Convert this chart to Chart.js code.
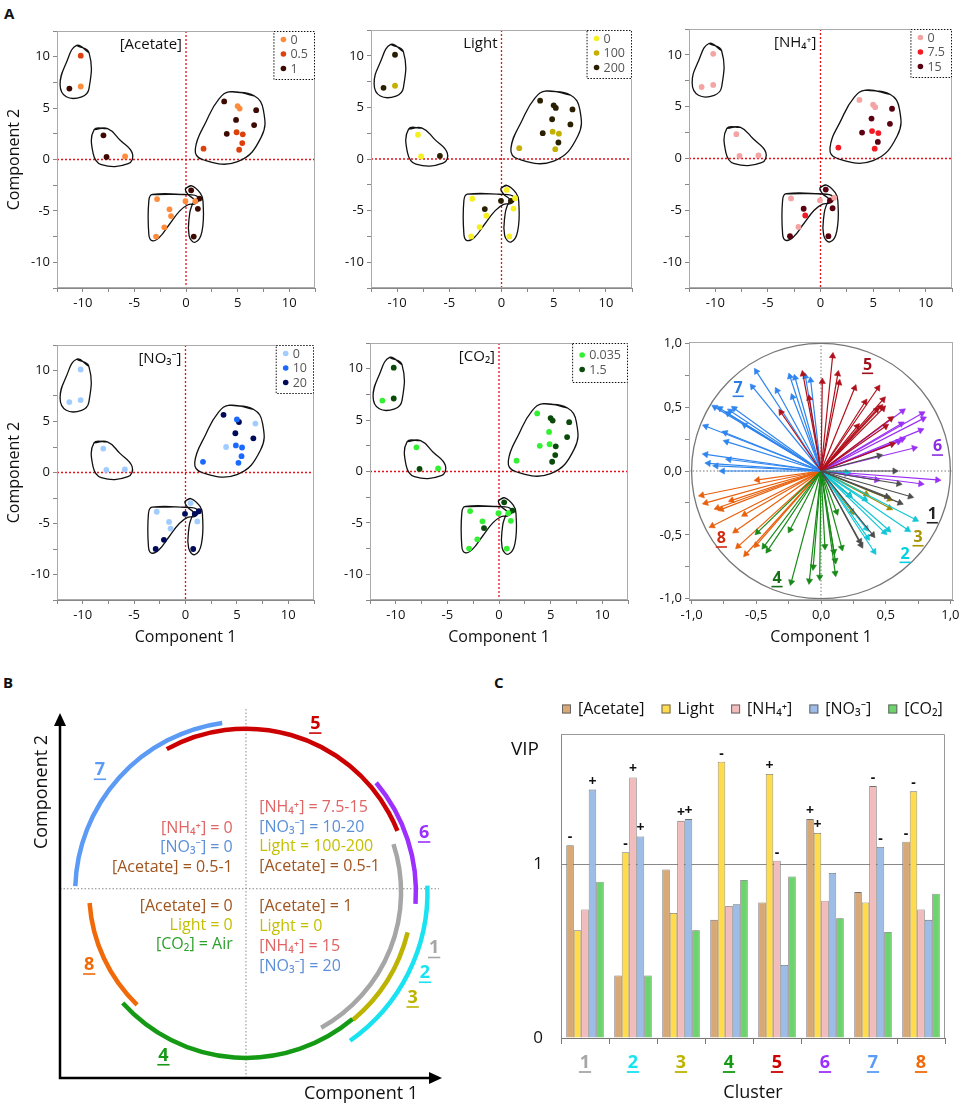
<!DOCTYPE html>
<html>
<head>
<meta charset="utf-8">
<title>PLS clusters</title>
<script src="https://cdn.jsdelivr.net/npm/chart.js@4.4.1/dist/chart.umd.min.js"></script>
<style>
  body { margin: 0; background: #fff; }
  #page { position: relative; width: 964px; height: 1107px; overflow: hidden; font-family: "Open Sans", "Noto Sans", sans-serif; }
  #page div.box { position: absolute; }
  .tag { position: absolute; font-weight: bold; font-size: 15px; line-height: 15px; color: #111; }
</style>
</head>
<body>
<div id="page">
  <div class="tag" style="left:4px;top:6px">A</div>
  <div class="tag" style="left:3px;top:675px">B</div>
  <div class="tag" style="left:494px;top:675px">C</div>
</div>
<script>
// scores of the 29 samples
const comp1 = [-11.3, -10.2, -10.2, -8.0, -7.7, -5.9, 3.7, 5.0, 5.2, 6.8, 4.85, 6.6, 3.95, 4.9, 5.5, 5.45, 1.7, 5.15,
               0.5, -2.8, -0.05, 0.9, 1.3, -1.6, -1.45, 1.15, -2.1, -2.9, 0.75];
const comp2 = [6.9, 7.1, 10.1, 2.35, 0.25, 0.3, 5.65, 5.2, 4.95, 4.8, 3.85, 3.35, 2.5, 2.65, 2.45, 1.6, 1.05, 0.95,
               -3.0, -3.85, -4.05, -4.05, -3.8, -4.85, -5.5, -4.8, -6.6, -7.5, -7.5];

// culture conditions of each sample
const acetate = [1, 0, 0.5, 1, 1, 0, 1, 0, 0, 1, 1, 1, 1, 0.5, 0.5, 0.5, 0.5, 0.5, 1, 0, 0, 0, 1, 0, 0, 1, 0, 0, 1];
const light = [200, 100, 200, 0, 0, 200, 200, 200, 200, 200, 200, 200, 200, 100, 100, 200, 100, 100, 0, 0, 200, 200, 0, 200, 0, 0, 0, 0, 0];
const nh4 = [0, 0, 0, 0, 0, 0, 0, 0, 0, 15, 15, 15, 15, 7.5, 7.5, 15, 7.5, 7.5, 15, 0, 0, 15, 0, 15, 7.5, 15, 0, 15, 15];
const no3 = [0, 0, 0, 0, 0, 0, 20, 10, 20, 0, 20, 20, 0, 10, 10, 10, 10, 10, 0, 0, 20, 20, 20, 0, 0, 0, 20, 20, 20];
const co2 = [0.035, 1.5, 1.5, 0.035, 1.5, 0.035, 0.035, 1.5, 1.5, 1.5, 0.035, 1.5, 0.035, 0.035, 1.5, 1.5, 0.035, 1.5,
             1.5, 0.035, 0.035, 0.035, 1.5, 0.035, 1.5, 0.035, 0.035, 0.035, 0.035];

// hand drawn group outlines (score units)
const hulls = [
  [[-10.6, 11.1], [-9.4, 10.4], [-9.4, 6.9], [-10.1, 6.1], [-11.6, 6.1], [-12.2, 7.3], [-11.6, 9.4]],
  [[-8.9, 2.9], [-7.6, 3.0], [-6.4, 1.9], [-5.2, 0.6], [-5.6, -0.4], [-8.2, -0.5], [-9.0, 0.6]],
  [[4.3, 6.6], [6.6, 6.2], [7.5, 4.8], [7.3, 2.2], [5.0, -0.2], [1.6, 0.0], [0.9, 1.0], [2.0, 3.8], [3.2, 5.9]],
  [[-3.25, -3.4], [0.6, -3.45], [1.25, -3.8], [0.9, -4.3], [0.2, -4.4], [-0.6, -5.0], [-1.6, -6.3], [-2.6, -7.6], [-3.3, -7.9], [-3.6, -7.3], [-3.6, -4.0]],
  [[-0.05, -2.85], [0.5, -2.55], [1.4, -3.3], [1.65, -4.1], [1.55, -7.0], [0.9, -8.05], [0.3, -7.4], [0.35, -5.3], [0.6, -4.4], [0.8, -3.95], [0.2, -3.4]]
];

// loadings: arrow tips per cluster 1..8
const load1 = [[0.57, 0.00], [0.45, 0.12], [0.60, -0.10], [0.51, -0.20], [0.69, -0.20], [0.61, -0.25], [0.40, -0.50], [0.31, -0.58], [0.30, -0.55]];
const load2 = [[0.73, -0.38], [0.67, -0.46], [0.52, -0.46], [0.49, -0.48], [0.41, -0.63], [0.36, -0.52], [0.35, -0.45], [0.34, -0.22], [0.22, -0.19], [0.20, -0.01]];
const load3 = [[0.53, -0.22], [0.53, -0.29], [0.35, -0.18], [0.24, -0.32]];
const load4 = [[-0.49, -0.48], [-0.44, -0.59], [-0.41, -0.62], [-0.24, -0.46], [-0.23, -0.87], [-0.09, -0.86], [-0.06, -0.75], [-0.01, -0.83],
               [0.03, -0.59], [0.10, -0.63], [0.11, -0.70], [0.11, -0.80], [0.16, -0.60], [0.12, -0.32], [0.22, -0.19]];
const load5 = [[-0.14, 0.76], [-0.09, 0.57], [-0.31, 0.46], [0.01, 0.70], [0.09, 0.90], [0.13, 0.76], [0.14, 0.69], [0.26, 0.65], [0.44, 0.65],
               [0.34, 0.54], [0.48, 0.56], [0.46, 0.50], [0.48, 0.49], [0.43, 0.48], [0.54, 0.41], [0.50, 0.35], [0.28, 0.35], [0.55, 0.21]];
const load6 = [[0.63, 0.47], [0.62, 0.37], [0.78, 0.45], [0.79, 0.41], [0.77, 0.32], [0.63, 0.25], [0.60, 0.23], [0.72, 0.18], [0.90, -0.07], [0.77, -0.10], [0.43, -0.07], [0.20, -0.02]];
const load7 = [[-0.50, 0.78], [-0.53, 0.66], [-0.34, 0.63], [-0.24, 0.74], [-0.20, 0.73], [-0.12, 0.74], [-0.08, 0.71], [-0.22, 0.58], [-0.82, 0.50],
               [-0.78, 0.49], [-0.67, 0.49], [-0.70, 0.47], [-0.72, 0.45], [-0.59, 0.36], [-0.89, 0.35], [-0.74, 0.30], [-0.73, 0.23], [-0.89, 0.13],
               [-0.71, 0.09], [-0.87, 0.06], [-0.81, 0.04], [-0.76, 0.00]];
const load8 = [[-0.49, -0.07], [-0.92, -0.19], [-0.89, -0.25], [-0.80, -0.29], [-0.77, -0.30], [-0.69, -0.23], [-0.59, -0.34], [-0.84, -0.43],
               [-0.66, -0.47], [-0.64, -0.59], [-0.58, -0.65], [-0.50, -0.58]];
const loadLabelX = [0.86, 0.65, 0.75, -0.34, 0.36, 0.90, -0.64, -0.77];
const loadLabelY = [-0.34, -0.65, -0.52, -0.84, 0.83, 0.19, 0.65, -0.53];

// panel B: cluster arcs (degrees) and radii
const arcFrom = [-61, -55, -50, -138, 22, -4, 98, 184];
const arcTo = [18, 2, -14, -50, 119, 40, 178, 226];
const arcRadius = [0.94, 1.10, 1.01, 1.005, 0.99, 1.03, 1.035, 0.95];
const bLabelX = [1.14, 1.085, 1.01, -0.50, 0.42, 1.08, -0.885, -0.95];
const bLabelY = [-0.34, -0.49, -0.64, -0.99, 1.02, 0.36, 0.74, -0.44];
const bNotes = [
  ['[NH₄⁺] = 0', -0.08, 0.388, 'right', 'nh4'],
  ['[NO₃⁻] = 0', -0.08, 0.273, 'right', 'no3'],
  ['[Acetate] = 0.5-1', -0.08, 0.152, 'right', 'ace'],
  ['[NH₄⁺] = 7.5-15', 0.08, 0.515, 'left', 'nh4'],
  ['[NO₃⁻] = 10-20', 0.08, 0.394, 'left', 'no3'],
  ['Light = 100-200', 0.08, 0.279, 'left', 'light'],
  ['[Acetate] = 0.5-1', 0.08, 0.158, 'left', 'ace'],
  ['[Acetate] = 0', -0.08, -0.085, 'right', 'ace'],
  ['Light = 0', -0.08, -0.2, 'right', 'light'],
  ['[CO₂] = Air', -0.08, -0.32, 'right', 'co2'],
  ['[Acetate] = 1', 0.08, -0.085, 'left', 'ace'],
  ['Light = 0', 0.08, -0.206, 'left', 'light'],
  ['[NH₄⁺] = 15', 0.08, -0.327, 'left', 'nh4'],
  ['[NO₃⁻] = 20', 0.08, -0.448, 'left', 'no3']
];

// panel C: VIP per cluster
const clusters = ['1', '2', '3', '4', '5', '6', '7', '8'];
const vipAcetate = [1.11, 0.36, 0.97, 0.68, 0.78, 1.26, 0.84, 1.13];
const vipLight = [0.62, 1.07, 0.72, 1.59, 1.52, 1.18, 0.78, 1.42];
const vipNH4 = [0.74, 1.50, 1.25, 0.76, 1.02, 0.79, 1.45, 0.74];
const vipNO3 = [1.43, 1.16, 1.26, 0.77, 0.42, 0.95, 1.10, 0.68];
const vipCO2 = [0.90, 0.36, 0.62, 0.91, 0.93, 0.69, 0.61, 0.83];
const signAcetate = ['-', '', '', '', '', '+', '', '-'];
const signLight = ['', '-', '', '-', '+', '+', '', '-'];
const signNH4 = ['', '+', '+', '', '-', '', '-', ''];
const signNO3 = ['+', '+', '+', '', '', '', '-', ''];
const signCO2 = ['', '', '', '', '', '', '', ''];

// colours
const clusterColors = ['#a6a6a6', '#19e3f0', '#bcb400', '#159a15', '#cc0000', '#9b30ff', '#5b9bf5', '#f06a0a'];
const arrowColors = ['#4d4d4d', '#12c6d6', '#9c8a00', '#178a17', '#b0101c', '#9b30f5', '#2f85ee', '#e8600c'];
const loadLabelColors = ['#222222', '#00cfe0', '#a89400', '#1a6e1a', '#a01018', '#8b2be2', '#2a7de1', '#d02a10'];
const noteColors = { nh4: '#e06464', no3: '#5b8fd8', ace: '#a0541e', light: '#c4bf00', co2: '#2ea02e' };

const FONT = '"Open Sans", "Noto Sans", sans-serif';
Chart.defaults.font.family = FONT;
Chart.defaults.color = '#111';
Chart.defaults.animation = false;
Chart.defaults.events = [];
Chart.defaults.plugins.legend.display = false;
Chart.defaults.plugins.tooltip.enabled = false;

const page = document.getElementById('page');

function canvasAt(box) {
  const div = document.createElement('div');
  div.className = 'box';
  div.style.left = box[0] + 'px';
  div.style.top = box[1] + 'px';
  div.style.width = box[2] + 'px';
  div.style.height = box[3] + 'px';
  const cv = document.createElement('canvas');
  cv.width = box[2];
  cv.height = box[3];
  div.appendChild(cv);
  page.appendChild(div);
  return cv;
}

// margins between a canvas box and the plot rectangle inside it
function fit(box, plot) {
  return { L: plot[0] - box[0], T: plot[1] - box[1], R: box[0] + box[2] - plot[2], B: box[1] + box[3] - plot[3] };
}

function fixSize(size) {
  return s => {
    if (s.isHorizontal()) s.height = size; else s.width = size;
    s.paddingLeft = s.paddingRight = s.paddingTop = s.paddingBottom = 0;
  };
}

function linAxis(o) {
  return {
    type: 'linear', min: o.min, max: o.max, afterFit: fixSize(o.size),
    ticks: {
      stepSize: o.step, includeBounds: false, autoSkip: false, maxRotation: 0, padding: 3,
      font: { size: 13 }, color: '#111',
      callback: v => (Math.abs(v / o.major - Math.round(v / o.major)) < 1e-6 ? o.fmt(v) : '')
    },
    grid: { drawOnChartArea: false, tickLength: 4, color: '#888' },
    border: { color: '#888' },
    title: o.title ? { display: true, text: o.title, font: { size: 16 }, color: '#111', padding: o.titlePad } : { display: false }
  };
}

function underlined(ctx, t, x, y, color, size, weight) {
  ctx.font = weight + ' ' + size + 'px ' + FONT;
  ctx.fillStyle = color;
  ctx.strokeStyle = color;
  ctx.textAlign = 'center';
  ctx.textBaseline = 'middle';
  ctx.fillText(t, x, y);
  const w = ctx.measureText(t).width;
  ctx.lineWidth = 1.6;
  ctx.beginPath();
  ctx.moveTo(x - w / 2 - 1, y + size * 0.52);
  ctx.lineTo(x + w / 2 + 1, y + size * 0.52);
  ctx.stroke();
}

function scoreDecor(title, names, colors) {
  return {
    id: 'scoreDecor',
    beforeDatasetsDraw(chart) {
      const { ctx, chartArea: a, scales: { x, y } } = chart;
      const px = x.getPixelForValue(0), py = y.getPixelForValue(0);
      ctx.save();
      ctx.strokeStyle = '#e8101a';
      ctx.lineWidth = 1.3;
      ctx.setLineDash([2, 2]);
      ctx.beginPath();
      ctx.moveTo(px, a.top); ctx.lineTo(px, a.bottom);
      ctx.moveTo(a.left, py); ctx.lineTo(a.right, py);
      ctx.stroke();
      ctx.restore();
    },
    afterDraw(chart) {
      const { ctx, chartArea: a, scales: { x } } = chart;
      ctx.save();
      ctx.strokeStyle = '#aaa';
      ctx.lineWidth = 1;
      ctx.strokeRect(a.left + 0.5, a.top + 0.5, a.width - 1, a.height - 1);
      ctx.font = '15px ' + FONT;
      ctx.fillStyle = '#111';
      ctx.textAlign = 'right';
      ctx.textBaseline = 'middle';
      ctx.fillText(title, x.getPixelForValue(0) - 4, a.top + 14);
      // legend box in the corner
      ctx.font = '12.5px ' + FONT;
      const n = names.length;
      const w = 24 + Math.max(...names.map(t => ctx.measureText(t).width));
      const h = n === 3 ? 49 : 40, first = n === 3 ? 8.5 : 12, step = 14.5;
      const bx = a.right - w, by = a.top;
      ctx.fillStyle = '#fff';
      ctx.fillRect(bx, by, w, h);
      ctx.setLineDash([1.5, 1.5]);
      ctx.strokeStyle = '#111';
      ctx.strokeRect(bx + 0.5, by + 0.5, w - 1, h - 1);
      ctx.setLineDash([]);
      names.forEach((t, k) => {
        const cy = by + first + k * step;
        ctx.fillStyle = colors[k];
        ctx.beginPath();
        ctx.arc(bx + 10, cy, 2.8, 0, Math.PI * 2);
        ctx.fill();
        ctx.fillStyle = '#555';
        ctx.textAlign = 'left';
        ctx.fillText(t, bx + 17, cy + 0.5);
      });
      ctx.restore();
    }
  };
}

function scoreChart(box, plot, values, levels, names, colors, title, yTitle, xTitle) {
  const f = fit(box, plot);
  const datasets = levels.map((lv, k) => ({
    data: comp1.map((x, i) => ({ x, y: comp2[i] })).filter((p, i) => values[i] === lv),
    pointRadius: 2.9, pointBackgroundColor: colors[k], pointBorderWidth: 0, order: 0
  }));
  hulls.forEach(h => datasets.push({
    data: h.concat([h[0], h[1]]).map(([x, y]) => ({ x, y })),
    showLine: true, tension: 0.45, borderColor: '#111', borderWidth: 1.3, pointRadius: 0, order: 1
  }));
  new Chart(canvasAt(box), {
    type: 'scatter',
    data: { datasets },
    options: {
      responsive: false,
      layout: { padding: { left: 0, top: f.T, right: f.R, bottom: 0 }, autoPadding: false },
      scales: {
        x: linAxis({ min: -12.5, max: 12.5, step: 2.5, major: 5, size: f.B, fmt: v => String(v),
                     title: xTitle ? 'Component 1' : null, titlePad: { top: 0, bottom: f.B - 9.6 - 37 } }),
        y: linAxis({ min: -12.5, max: 12.5, step: 2.5, major: 5, size: f.L, fmt: v => String(v),
                     title: yTitle ? 'Component 2' : null, titlePad: { top: 4.4, bottom: 0 } })
      }
    },
    plugins: [scoreDecor(title, names, colors)]
  });
}

scoreChart([0, 0, 320, 318], [57, 31, 315, 288], acetate, [0, 0.5, 1], ['0', '0.5', '1'],
           ['#ff8c3a', '#dc400c', '#3c0a00'], '[Acetate]', true, false);
scoreChart([320, 0, 320, 318], [371, 30, 632, 288], light, [0, 100, 200], ['0', '100', '200'],
           ['#f7f020', '#c4b000', '#2a2000'], 'Light', false, false);
scoreChart([640, 0, 324, 318], [689, 29, 952, 288], nh4, [0, 7.5, 15], ['0', '7.5', '15'],
           ['#f5a3a3', '#f41a24', '#5a0010'], '[NH₄⁺]', false, false);
scoreChart([0, 318, 320, 342], [57, 345, 314, 600], no3, [0, 10, 20], ['0', '10', '20'],
           ['#a0ccff', '#1a6aff', '#000a5a'], '[NO₃⁻]', true, true);
scoreChart([320, 318, 320, 342], [370, 343, 628, 600], co2, [0.035, 1.5], ['0.035', '1.5'],
           ['#33f033', '#0a4a0a'], '[CO₂]', false, true);

// loadings plot
(function () {
  const box = [640, 318, 324, 342], plot = [689, 342, 953, 600];
  const f = fit(box, plot);
  const arrows = [load1, load2, load3, load4, load5, load6, load7, load8];
  const datasets = [];
  arrows.forEach((set, c) => set.forEach(([x, y]) => datasets.push({
    data: [{ x: 0, y: 0 }, { x, y }],
    showLine: true, borderColor: arrowColors[c], borderWidth: 1.2,
    pointRadius: [0, 3.6], pointStyle: 'triangle', pointRotation: [0, Math.atan2(x, y) * 180 / Math.PI],
    pointBackgroundColor: arrowColors[c], pointBorderColor: arrowColors[c], pointBorderWidth: 0.6
  })));
  const comma = v => v.toFixed(1).replace('.', ',');
  new Chart(canvasAt(box), {
    type: 'scatter',
    data: { datasets },
    options: {
      responsive: false,
      layout: { padding: { left: 0, top: f.T, right: f.R, bottom: 0 }, autoPadding: false },
      scales: {
        x: linAxis({ min: -1.02, max: 1.02, step: 0.25, major: 0.5, size: f.B, fmt: comma,
                     title: 'Component 1', titlePad: { top: 0, bottom: f.B - 9.6 - 37 } }),
        y: linAxis({ min: -1.01, max: 1.01, step: 0.25, major: 0.5, size: f.L, fmt: comma })
      }
    },
    plugins: [{
      id: 'loadDecor',
      beforeDatasetsDraw(chart) {
        const { ctx, chartArea: a, scales: { x, y } } = chart;
        const cx = x.getPixelForValue(0), cy = y.getPixelForValue(0);
        ctx.save();
        ctx.strokeStyle = '#777';
        ctx.lineWidth = 1.3;
        ctx.beginPath();
        ctx.ellipse(cx, cy, x.getPixelForValue(1) - cx, cy - y.getPixelForValue(1), 0, 0, Math.PI * 2);
        ctx.stroke();
        ctx.lineWidth = 1;
        ctx.setLineDash([1.5, 2]);
        ctx.beginPath();
        ctx.moveTo(cx, a.top); ctx.lineTo(cx, a.bottom);
        ctx.moveTo(a.left, cy); ctx.lineTo(a.right, cy);
        ctx.stroke();
        ctx.restore();
      },
      afterDraw(chart) {
        const { ctx, chartArea: a, scales: { x, y } } = chart;
        ctx.save();
        ctx.strokeStyle = '#aaa';
        ctx.lineWidth = 1;
        ctx.strokeRect(a.left + 0.5, a.top + 0.5, a.width - 1, a.height - 1);
        clusters.forEach((t, i) => underlined(ctx, t, x.getPixelForValue(loadLabelX[i]), y.getPixelForValue(loadLabelY[i]),
                                              loadLabelColors[i], 16, 'bold'));
        ctx.restore();
      }
    }]
  });
})();

// panel B: schematic of the clusters
(function () {
  const box = [0, 690, 480, 417];
  new Chart(canvasAt(box), {
    type: 'scatter',
    data: { datasets: [] },
    options: {
      responsive: false,
      layout: { padding: { left: 60, top: 23, right: 38, bottom: 29 }, autoPadding: false },
      scales: {
        x: { type: 'linear', display: false, min: -1.127, max: 1.188 },
        y: { type: 'linear', display: false, min: -1.127, max: 1.085 }
      }
    },
    plugins: [{
      id: 'schematic',
      afterDraw(chart) {
        const { ctx, chartArea: a, scales: { x, y } } = chart;
        const cx = x.getPixelForValue(0), cy = y.getPixelForValue(0);
        const u = x.getPixelForValue(1) - cx;
        ctx.save();
        ctx.strokeStyle = '#888';
        ctx.lineWidth = 1;
        ctx.setLineDash([1.5, 2]);
        ctx.beginPath();
        ctx.moveTo(cx, a.top - 4); ctx.lineTo(cx, a.bottom);
        const hy = y.getPixelForValue(0.02);
        ctx.moveTo(a.left, hy); ctx.lineTo(a.right - 3, hy);
        ctx.stroke();
        ctx.setLineDash([]);
        ctx.lineWidth = 4.5;
        clusters.forEach((t, i) => {
          ctx.strokeStyle = clusterColors[i];
          ctx.beginPath();
          ctx.arc(cx, cy, arcRadius[i] * u, -arcTo[i] * Math.PI / 180, -arcFrom[i] * Math.PI / 180);
          ctx.stroke();
        });
        // axes with arrow heads
        ctx.strokeStyle = '#000';
        ctx.fillStyle = '#000';
        ctx.lineWidth = 2.5;
        ctx.beginPath();
        ctx.moveTo(a.left, a.top + 10); ctx.lineTo(a.left, a.bottom); ctx.lineTo(a.right - 10, a.bottom);
        ctx.stroke();
        ctx.beginPath();
        ctx.moveTo(a.left, a.top); ctx.lineTo(a.left - 6, a.top + 13); ctx.lineTo(a.left + 6, a.top + 13);
        ctx.closePath(); ctx.fill();
        ctx.beginPath();
        ctx.moveTo(a.right, a.bottom); ctx.lineTo(a.right - 13, a.bottom - 6); ctx.lineTo(a.right - 13, a.bottom + 6);
        ctx.closePath(); ctx.fill();
        // condition notes
        ctx.font = '16px ' + FONT;
        ctx.textBaseline = 'middle';
        bNotes.forEach(([t, nx, ny, align, key]) => {
          ctx.fillStyle = noteColors[key];
          ctx.textAlign = align;
          ctx.fillText(t, x.getPixelForValue(nx), y.getPixelForValue(ny));
        });
        clusters.forEach((t, i) => underlined(ctx, t, x.getPixelForValue(bLabelX[i]), y.getPixelForValue(bLabelY[i]),
                                              clusterColors[i], 18, 'bold'));
        // axis titles
        ctx.font = '18px ' + FONT;
        ctx.fillStyle = '#111';
        ctx.textAlign = 'center';
        ctx.textBaseline = 'middle';
        ctx.fillText('Component 1', 361, 404);
        ctx.translate(42, 102);
        ctx.rotate(-Math.PI / 2);
        ctx.fillText('Component 2', 0, 0);
        ctx.restore();
      }
    }]
  });
})();

// panel C: VIP bars
(function () {
  const box = [480, 680, 484, 427], plot = [561, 734, 945, 1038];
  const f = fit(box, plot);
  const series = [
    ['[Acetate]', vipAcetate, signAcetate, '#d9a877'],
    ['Light', vipLight, signLight, '#ffdb4d'],
    ['[NH₄⁺]', vipNH4, signNH4, '#f2bcbc'],
    ['[NO₃⁻]', vipNO3, signNO3, '#9dbde6'],
    ['[CO₂]', vipCO2, signCO2, '#6dd46d']
  ];
  new Chart(canvasAt(box), {
    type: 'bar',
    data: {
      labels: clusters,
      datasets: series.map(([label, data, signs, color]) => ({
        label, data, signs, backgroundColor: color, borderColor: '#707070', borderWidth: 0.8
      }))
    },
    options: {
      responsive: false,
      layout: { padding: { left: 0, top: f.T, right: f.R, bottom: 0 }, autoPadding: false },
      datasets: { bar: { barPercentage: 1, categoryPercentage: 0.78 } },
      scales: {
        x: {
          afterFit: fixSize(f.B),
          ticks: { color: clusterColors, font: { size: 18, weight: 'bold' }, padding: 8, maxRotation: 0, autoSkip: false },
          grid: { drawOnChartArea: false, tickLength: 6, color: '#777' },
          border: { color: '#777' },
          title: { display: true, text: 'Cluster', font: { size: 18 }, color: '#111', padding: { top: 0, bottom: 3.2 } }
        },
        y: {
          min: 0, max: 1.75,
          afterFit: fixSize(f.L),
          afterBuildTicks: s => { s.ticks = [{ value: 0 }, { value: 1 }]; },
          ticks: { padding: 18, font: { size: 17 }, color: '#111' },
          grid: { drawTicks: false, color: c => (c.tick && c.tick.value === 1 ? '#888' : 'rgba(0,0,0,0)') },
          border: { color: '#888' }
        }
      }
    },
    plugins: [{
      id: 'vipDecor',
      afterDraw(chart) {
        const { ctx, chartArea: a, scales: { x } } = chart;
        ctx.save();
        ctx.strokeStyle = '#999';
        ctx.lineWidth = 1;
        ctx.beginPath();
        ctx.moveTo(a.left, a.top + 0.5); ctx.lineTo(a.right - 0.5, a.top + 0.5); ctx.lineTo(a.right - 0.5, a.bottom);
        ctx.stroke();
        // +/- marks above bars
        ctx.font = 'bold 14px ' + FONT;
        ctx.fillStyle = '#111';
        ctx.textAlign = 'center';
        ctx.textBaseline = 'bottom';
        chart.data.datasets.forEach((ds, i) => {
          const meta = chart.getDatasetMeta(i);
          ds.signs.forEach((s, j) => { if (s) ctx.fillText(s, meta.data[j].x, meta.data[j].y - 1); });
        });
        // underline cluster numbers
        ctx.font = 'bold 18px ' + FONT;
        ctx.lineWidth = 1.8;
        x.ticks.forEach((t, i) => {
          const px = x.getPixelForTick(i), w = ctx.measureText(clusters[i]).width;
          const uy = a.bottom + 6 + 8 + 20;
          ctx.strokeStyle = clusterColors[i];
          ctx.beginPath(); ctx.moveTo(px - w / 2 - 1, uy); ctx.lineTo(px + w / 2 + 1, uy); ctx.stroke();
        });
        // legend
        let lx = a.left + 1;
        const ly = a.top - 25;
        ctx.font = '16px ' + FONT;
        ctx.textAlign = 'left';
        ctx.textBaseline = 'middle';
        ctx.lineWidth = 1;
        chart.data.datasets.forEach(ds => {
          ctx.fillStyle = ds.backgroundColor;
          ctx.fillRect(lx, ly - 4.5, 9, 9);
          ctx.strokeStyle = '#666';
          ctx.strokeRect(lx + 0.5, ly - 4, 8, 8);
          ctx.fillStyle = '#111';
          ctx.fillText(ds.label, lx + 16, ly);
          lx += 16 + ctx.measureText(ds.label).width + 17;
        });
        ctx.font = '19px ' + FONT;
        ctx.textAlign = 'center';
        ctx.fillText('VIP', a.left - 36, a.top + 16);
        ctx.restore();
      }
    }]
  });
})();
</script>
</body>
</html>
